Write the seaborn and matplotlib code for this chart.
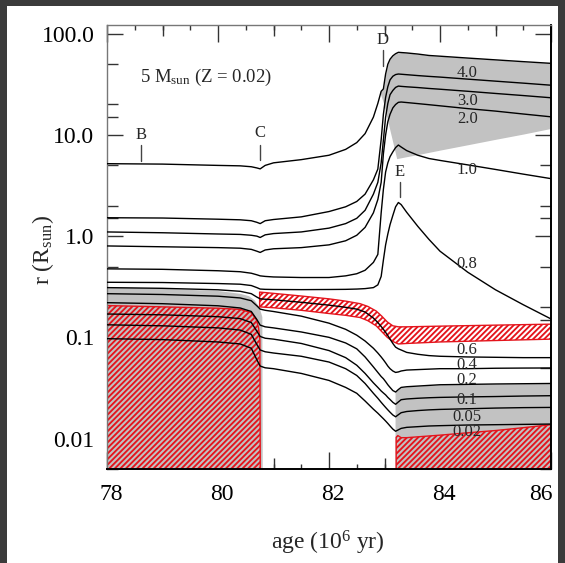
import numpy as np
import pandas as pd
import matplotlib
matplotlib.use("Agg")
import matplotlib.pyplot as plt
import seaborn as sns
from matplotlib.ticker import FixedLocator, FixedFormatter, LogLocator, MultipleLocator, NullFormatter
from matplotlib.patches import Rectangle
from matplotlib.transforms import ScaledTranslation

# ages (10^6 yr) shared by all mass-coordinate curves
age_grid = [78.0, 79.0, 80.0, 80.4, 80.6, 80.7, 80.76, 80.85, 81.0, 81.5,
            82.0, 82.3, 82.5, 82.65, 82.8, 82.88, 82.94, 82.98, 83.02, 83.06,
            83.1, 83.15, 83.2, 83.25, 83.3, 83.4, 83.6, 83.8, 84.0, 84.5,
            85.0, 85.5, 86.0]

# radius (R_sun) of each mass coordinate
r_surface = [5.2, 5.15, 5.0, 4.95, 4.85, 4.72, 4.62, 5.0, 5.3, 5.7,
             6.3, 7.2, 8.4, 10.3, 15.0, 20.5, 27.0, 28.5, 40.0, 50.0,
             56.0, 60.5, 63.5, 65.5, 65.2, 64.6, 63.0, 61.0, 60.0, 57.5,
             55.2, 53.0, 51.0]
r_m40 = [1.52, 1.51, 1.47, 1.45, 1.42, 1.37, 1.33, 1.42, 1.46, 1.55,
         1.75, 1.95, 2.2, 2.6, 3.6, 4.6, 9.0, 16.0, 23.5, 30.0,
         35.0, 38.0, 39.5, 40.0, 39.8, 39.4, 38.6, 37.9, 37.3, 35.6,
         34.0, 32.5, 31.0]
r_m30 = [1.10, 1.08, 1.05, 1.04, 1.02, 1.0, 0.97, 1.03, 1.06, 1.1,
         1.2, 1.33, 1.5, 1.8, 2.6, 3.4, 5.3, 8.9, 15.0, 20.5,
         25.0, 27.5, 29.5, 30.4, 30.2, 29.9, 29.4, 28.8, 28.3, 27.0,
         25.7, 24.5, 23.3]
r_m20 = [0.80, 0.785, 0.77, 0.76, 0.74, 0.71, 0.69, 0.73, 0.75, 0.77,
         0.82, 0.9, 1.02, 1.22, 1.7, 2.3, 3.4, 6.5, 10.0, 13.5,
         16.0, 18.5, 20.0, 21.0, 21.15, 20.9, 20.4, 19.9, 19.4, 18.2,
         17.2, 16.1, 15.1]
r_m10 = [0.475, 0.47, 0.455, 0.445, 0.43, 0.415, 0.405, 0.40, 0.395, 0.39,
         0.39, 0.405, 0.425, 0.46, 0.55, 0.66, 1.7, 2.9, 4.3, 5.3,
         6.1, 6.8, 7.5, 7.95, 7.6, 7.0, 6.3, 5.85, 5.6, 5.06,
         4.56, 4.1, 3.7]
r_m08 = [0.35, 0.348, 0.34, 0.335, 0.325, 0.31, 0.30, 0.298, 0.297, 0.296,
         0.297, 0.298, 0.30, 0.303, 0.31, 0.33, 0.40, 0.58, 0.82, 1.05,
         1.3, 1.6, 1.95, 2.15, 2.05, 1.72, 1.25, 0.93, 0.71, 0.44,
         0.295, 0.21, 0.152]
r_m06 = [0.31, 0.305, 0.295, 0.285, 0.27, 0.25, 0.24, 0.238, 0.235, 0.222,
         0.208, 0.198, 0.19, 0.178, 0.155, 0.14, 0.128, 0.12, 0.112, 0.104,
         0.096, 0.087, 0.08, 0.077, 0.075, 0.071, 0.068, 0.066, 0.065, 0.064,
         0.0635, 0.063, 0.063]
r_m04 = [0.27, 0.265, 0.255, 0.245, 0.23, 0.205, 0.19, 0.185, 0.18, 0.162,
         0.138, 0.12, 0.105, 0.092, 0.078, 0.07, 0.064, 0.06, 0.056, 0.052,
         0.049, 0.0465, 0.045, 0.0455, 0.0465, 0.0475, 0.048, 0.0485, 0.049, 0.049,
         0.0495, 0.0497, 0.0498]
r_m02 = [0.22, 0.215, 0.205, 0.195, 0.18, 0.15, 0.132, 0.127, 0.124, 0.113,
         0.1, 0.088, 0.077, 0.064, 0.051, 0.045, 0.041, 0.039, 0.0365, 0.034,
         0.032, 0.0298, 0.0288, 0.0305, 0.032, 0.0325, 0.033, 0.0335, 0.034, 0.0343,
         0.0346, 0.0348, 0.035]
r_m01 = [0.17, 0.167, 0.16, 0.153, 0.14, 0.115, 0.102, 0.098, 0.096, 0.087,
         0.074, 0.063, 0.053, 0.044, 0.0355, 0.032, 0.0295, 0.0282, 0.027, 0.0255,
         0.0243, 0.0228, 0.0218, 0.023, 0.0242, 0.0246, 0.025, 0.0253, 0.0255, 0.0258,
         0.026, 0.0263, 0.0265]
r_m005 = [0.133, 0.13, 0.124, 0.118, 0.107, 0.085, 0.075, 0.072, 0.07, 0.065,
          0.057, 0.049, 0.042, 0.035, 0.028, 0.025, 0.0228, 0.0215, 0.0203, 0.0192,
          0.0182, 0.0171, 0.0164, 0.0172, 0.018, 0.0185, 0.0189, 0.0192, 0.0194, 0.0197,
          0.02, 0.0202, 0.0203]
r_m002 = [0.097, 0.095, 0.09, 0.086, 0.078, 0.06, 0.052, 0.05, 0.049, 0.044,
          0.0375, 0.032, 0.028, 0.0235, 0.0195, 0.0178, 0.0165, 0.0157, 0.0149, 0.0141,
          0.0133, 0.0124, 0.0118, 0.0122, 0.0126, 0.0129, 0.0131, 0.0133, 0.0134, 0.0136,
          0.0137, 0.0138, 0.0139]

# shaded zones
r_floor = 0.001
gray_left_age = [78.0, 79.0, 80.0, 80.4, 80.55, 80.65, 80.74, 80.79, 80.8]
gray_left_top = [0.318, 0.305, 0.29, 0.272, 0.258, 0.235, 0.2, 0.16, 0.001]
hatch_left_age = [78.0, 79.0, 80.0, 80.4, 80.6, 80.69, 80.73, 80.755, 80.765]
hatch_left_top = [0.206, 0.2, 0.194, 0.189, 0.175, 0.15, 0.125, 0.095, 0.001]

band_age = [80.75, 81.0, 81.5, 82.0, 82.3, 82.56, 82.7, 82.85, 82.95, 83.05,
            83.15, 83.25, 83.4, 84.0, 85.0, 86.0]
band_top = [0.28, 0.272, 0.256, 0.24, 0.228, 0.215, 0.202, 0.182, 0.162, 0.142,
            0.13, 0.127, 0.127, 0.129, 0.132, 0.135]
band_bottom = [0.2, 0.196, 0.185, 0.172, 0.165, 0.157, 0.146, 0.13, 0.114, 0.1,
               0.091, 0.086, 0.087, 0.09, 0.093, 0.096]

gray_up_age = [82.92, 82.98, 83.02, 83.06, 83.1, 83.15, 83.22, 83.3, 83.4, 83.6,
               83.8, 84.0, 84.5, 85.0, 85.5, 86.0]
gray_up_top = [26.7, 28.5, 40.0, 50.0, 56.0, 60.5, 64.5, 65.2, 64.6, 63.0,
               61.0, 60.0, 57.5, 55.2, 53.0, 51.0]
gray_up_bottom = [26.0, 20.8, 16.8, 13.6, 11.0, 8.45, 5.83, 5.95, 6.1, 6.4,
                  6.73, 7.08, 8.0, 9.05, 10.2, 11.6]

gray_low_age = [83.19, 83.2, 83.25, 83.3, 83.4, 83.6, 83.8, 84.0, 84.5, 85.0, 85.5, 86.0]
gray_low_top = [0.029, 0.0292, 0.0305, 0.032, 0.0325, 0.033, 0.0335, 0.034, 0.0343,
                0.0346, 0.0348, 0.035]
hatch_low_age = [83.21, 83.24, 83.3, 83.4, 83.6, 84.0, 84.5, 85.0, 85.5, 86.0]
hatch_low_top = [0.0103, 0.0107, 0.0102, 0.0102, 0.0104, 0.0108, 0.0114, 0.012,
                 0.0128, 0.0137]

# curve labels
label_text = ["4.0", "3.0", "2.0", "1.0", "0.8", "0.6", "0.4", "0.2", "0.1", "0.05", "0.02"]
label_age = 84.49
label_r = [40.6, 21.7, 14.5, 4.47, 0.525, 0.075, 0.0533, 0.0381, 0.024, 0.0164, 0.0115]

# evolutionary points
event_label = ["B", "C", "D", "E"]
event_age = [78.61, 80.76, 82.97, 83.28]
event_text_r = [9.93, 10.4, 86.6, 4.27]
event_tick_lo = [5.55, 5.6, 48.0, 2.43]
event_tick_hi = [7.9, 7.9, 68.9, 3.43]

ytick_vals = [0.01, 0.1, 1.0, 10.0, 100.0]
ytick_text = ["0.01", "0.1", "1.0", "10.0", "100.0"]

sns.set_theme(style="ticks")
plt.rcParams["font.family"] = ["Liberation Serif", "DejaVu Serif"]
plt.rcParams["mathtext.fontset"] = "custom"
plt.rcParams["mathtext.rm"] = "Liberation Serif"
plt.rcParams["mathtext.it"] = "Liberation Serif:italic"
plt.rcParams["hatch.linewidth"] = 1.35

RED = "#e4141c"
GRAY = "#c2c2c2"

fig = plt.figure(figsize=(5.65, 5.63), dpi=100, facecolor="#3b3b3b")
fig.add_artist(Rectangle((7 / 565, 0), 551 / 565, 557 / 563, transform=fig.transFigure,
                         facecolor="white", edgecolor="none", zorder=-1))
ax = fig.add_axes([107 / 565, 1 - 469 / 563, 444 / 565, 444 / 563])
ax.set_yscale("log")
ax.set_xlim(78, 86)
ax.set_ylim(0.005, 122)

# gray and hatched zones
ax.fill_between(gray_left_age, gray_left_top, r_floor, color=GRAY, lw=0, zorder=1)
ax.fill_between(gray_up_age, gray_up_top, gray_up_bottom, color=GRAY, lw=0, zorder=1)
ax.fill_between(gray_low_age, gray_low_top, r_floor, color=GRAY, lw=0, zorder=1)
ax.fill_between(hatch_left_age, hatch_left_top, r_floor, facecolor=GRAY, edgecolor=RED,
                hatch="//////", lw=1.0, zorder=1.5)
ax.fill_between(hatch_low_age, hatch_low_top, r_floor, facecolor=GRAY, edgecolor=RED,
                hatch="//////", lw=1.0, zorder=1.5)
ax.fill_between(band_age, band_top, band_bottom, facecolor="white", edgecolor=RED,
                hatch="//////", lw=1.0, zorder=1.5)

# mass-coordinate curves
curves = {"5.0": r_surface, "4.0": r_m40, "3.0": r_m30, "2.0": r_m20, "1.0": r_m10,
          "0.8": r_m08, "0.6": r_m06, "0.4": r_m04, "0.2": r_m02, "0.1": r_m01,
          "0.05": r_m005, "0.02": r_m002}
df = pd.concat([pd.DataFrame({"age": age_grid, "r": vals, "mass": m})
                for m, vals in curves.items()], ignore_index=True)
sns.lineplot(data=df, x="age", y="r", units="mass", estimator=None, sort=False,
             color="black", linewidth=1.0, legend=False, ax=ax, zorder=3)

for txt, rr in zip(label_text, label_r):
    ax.text(label_age, rr, txt, fontsize=12, ha="center", va="center", zorder=4)

for lab, a, rt, lo, hi in zip(event_label, event_age, event_text_r, event_tick_lo, event_tick_hi):
    ax.plot([a, a], [lo, hi], color="#444444", lw=1.0, zorder=4)
    ax.text(a, rt, lab, fontsize=12, ha="center", va="center", zorder=4)

ax.text(78.6, 37.3, r"5 M$_{\rm sun}$ (Z = 0.02)", fontsize=13.5, ha="left", va="center")

# axes styling
ax.set_xticks([78, 80, 82, 84, 86])
ax.xaxis.set_minor_locator(MultipleLocator(0.5))
ax.yaxis.set_major_locator(FixedLocator(ytick_vals))
ax.yaxis.set_major_formatter(FixedFormatter(ytick_text))
ax.yaxis.set_minor_locator(LogLocator(base=10, subs=[1.5, 2.0, 5.0]))
ax.yaxis.set_minor_formatter(NullFormatter())
ax.tick_params(which="both", direction="in", top=True, right=True, colors="#333333",
               labelcolor="black", labelsize=17, width=1.0)
ax.tick_params(axis="x", which="major", length=12, pad=11)
ax.tick_params(axis="x", which="minor", length=3.6)
ax.tick_params(axis="y", which="major", length=11.5, pad=9)
ax.tick_params(axis="y", which="minor", length=7.7)

for loc in ["bottom", "top"]:
    sec = ax.secondary_xaxis(loc)
    sec.set_xticks([79, 81, 83, 85])
    sec.tick_params(direction="in", length=8, width=1.0, colors="#333333",
                    labelbottom=False, labeltop=False)
    sec.spines[loc].set_visible(False)

for side in ["left", "top"]:
    ax.spines[side].set_color("#777777")
    ax.spines[side].set_linewidth(1.0)
for side in ["right", "bottom"]:
    ax.spines[side].set_color("black")
    ax.spines[side].set_linewidth(1.4)

# x tick labels sit slightly right of their ticks, the last one pulled inside
for lbl in ax.get_xticklabels():
    dx = -0.10 if lbl.get_text() == "86" else 0.04
    lbl.set_transform(lbl.get_transform() + ScaledTranslation(dx, 0, fig.dpi_scale_trans))

ax.set_xlabel(r"age (10$^6$ yr)", fontsize=17)
ax.set_ylabel(r"r (R$_{\rm sun}$)", fontsize=17)
ax.xaxis.set_label_coords(0.498, -0.135)
ax.yaxis.set_label_coords(-0.115, 0.493)

fig.savefig("out.png", dpi=100, facecolor=fig.get_facecolor())
